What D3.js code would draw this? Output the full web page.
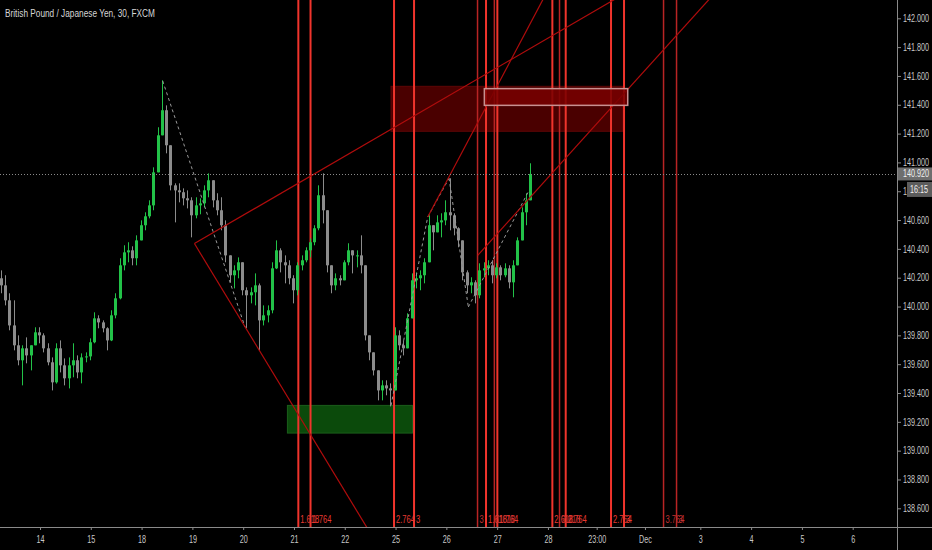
<!DOCTYPE html>
<html><head><meta charset="utf-8">
<script src="https://cdn.jsdelivr.net/npm/d3@7/dist/d3.min.js"></script>
<style>html,body{margin:0;padding:0;background:#000;}svg{display:block;}</style>
</head><body>
<svg id="chart" width="932" height="550"></svg>
<script>
const title = "British Pound / Japanese Yen, 30, FXCM";
// candles: 2h aggregation, time in trading-day units (0 = "14")
const candleStart = -0.768;
const candleStep = 1 / 12;
const firstOpen = 140.196;
const highs = [
140.251,140.217,140.092,140.043,139.800,139.731,139.786,139.731,139.856,139.856,
139.814,139.745,139.647,139.745,139.765,139.640,139.647,139.745,139.661,139.675,
139.682,139.779,139.960,139.939,139.904,139.856,139.974,140.092,140.335,140.425,
140.446,140.418,140.494,140.598,140.654,140.737,140.966,141.244,141.570,141.396,
141.119,140.855,140.855,140.820,140.806,140.758,140.758,140.751,140.841,140.924,
140.876,140.786,140.758,140.598,140.355,140.286,140.341,140.307,140.133,140.133,
140.230,140.160,140.008,140.008,140.307,140.459,140.404,140.355,140.321,140.217,
140.307,140.355,140.411,140.473,140.564,140.841,140.924,140.668,140.286,140.230,
140.217,140.321,140.439,140.390,140.390,140.494,140.286,139.800,139.682,139.557,
139.488,139.488,139.467,139.856,139.835,139.765,139.953,140.230,140.237,140.251,
140.335,140.633,140.564,140.633,140.647,140.737,140.890,140.647,140.550,140.459,
140.251,140.203,140.182,140.300,140.307,140.321,140.321,140.300,140.286,140.300,
140.286,140.321,140.480,140.688,140.786,140.994];
const lows = [
140.092,140.008,139.835,139.696,139.592,139.453,139.606,139.557,139.731,139.745,
139.682,139.592,139.418,139.465,139.543,139.453,139.432,139.509,139.502,139.467,
139.613,139.627,139.745,139.849,139.821,139.696,139.760,139.918,140.050,140.251,
140.307,140.286,140.286,140.459,140.529,140.612,140.668,140.931,141.188,141.063,
140.806,140.584,140.723,140.702,140.681,140.480,140.612,140.640,140.688,140.758,
140.688,140.633,140.529,140.307,140.168,140.126,140.196,140.078,139.849,140.022,
140.008,139.696,139.869,139.890,139.953,140.260,140.237,140.161,140.154,140.022,
140.078,140.251,140.307,140.341,140.425,140.529,140.577,140.237,140.092,140.113,
140.147,140.182,140.286,140.230,140.272,140.230,139.765,139.627,139.522,139.349,
139.349,139.384,139.307,139.418,139.696,139.661,139.710,139.918,140.126,140.113,
140.161,140.307,140.390,140.515,140.480,140.564,140.529,140.494,140.411,140.182,
140.092,140.092,140.022,140.057,140.203,140.217,140.161,140.196,140.182,140.203,
140.126,140.064,140.286,140.459,140.564,140.737];
const closes = [
140.147,140.043,139.869,139.731,139.627,139.710,139.661,139.731,139.821,139.800,
139.710,139.613,139.474,139.710,139.592,139.502,139.592,139.627,139.543,139.647,
139.654,139.752,139.918,139.890,139.849,139.765,139.939,140.057,140.286,140.376,
140.390,140.335,140.459,140.564,140.626,140.702,140.931,141.188,141.362,141.119,
140.841,140.806,140.793,140.751,140.737,140.633,140.702,140.716,140.806,140.876,
140.737,140.668,140.564,140.355,140.217,140.251,140.307,140.113,140.078,140.099,
140.147,139.904,139.939,139.974,140.265,140.390,140.307,140.286,140.196,140.113,
140.286,140.321,140.390,140.446,140.543,140.772,140.668,140.286,140.147,140.196,
140.182,140.307,140.390,140.355,140.355,140.286,139.800,139.682,139.557,139.418,
139.453,139.432,139.418,139.800,139.731,139.710,139.918,140.182,140.196,140.217,
140.307,140.564,140.515,140.584,140.598,140.654,140.633,140.543,140.459,140.237,
140.147,140.168,140.078,140.251,140.265,140.286,140.217,140.272,140.217,140.265,
140.168,140.286,140.459,140.654,140.737,140.920];
const lastPrice = 140.920;
const countdown = "16:15";
const priceTicks = [142.0,141.8,141.6,141.4,141.2,141.0,140.8,140.6,140.4,140.2,140.0,139.8,139.6,139.4,139.2,139.0,138.8,138.6];
const timeTickPos = [0,1,2,3,4,5,6,7,8,9,10,10.96,11.91,13,14,15,16];
const timeTickLabels = ["14","15","18","19","20","21","22","25","26","27","28","23:00","Dec","3","4","5","6"];
// fib time zone vertical lines
const vlineDays = [5.086,5.326,6.970,7.364,8.614,8.781,8.945,9.004,10.087,10.228,10.350,11.242,11.498,12.276,12.532];
const vlineLabels = ["1.618","1.764","2.764","3","3","1.618","1.618","1.764","2.618","2.618","2.764","2.764","3","3.764","3"];
const vlineKind = ["major","major","major","major","minor","major","minor","major","major","minor","major","major","major","minor","minor"];
// trend lines [day1, price1, day2, price2]
const trendLines = [
  [3.04,140.437,12.01,142.274],
  [3.04,140.437,6.694,138.317],
  [7.633,140.621,10.238,142.354],
  [8.618,140.355,13.585,142.292]
];
// zigzag (dashed) segments [day1, price1, day2, price2]
const zigzag = [
  [2.416,141.565,4.036,139.858],
  [6.911,139.314,7.633,140.621],
  [7.633,140.621,8.053,140.890],
  [8.053,140.890,8.433,139.997],
  [8.433,139.997,9.608,140.793]
];
// zones [day1, day2, priceTop, priceBottom]
const greenZone = [4.871,7.333,139.314,139.122];
const redZone = [6.911,11.473,141.528,141.216];
const redBox = [8.748,11.571,141.512,141.396];

const W = 932, H = 550, plotR = 897, plotB = 527;
const svg = d3.select("#chart");
const x = d3.scaleLinear().domain([0,16]).range([40,852.7]);
const y = d3.scaleLinear().domain([138.6,142.0]).range([508.3,18.3]);
const FONT = "'Liberation Sans', Arial, sans-serif";
const SQ = 0.72; // horizontal squash of the screenshot's narrow font

svg.append("rect").attr("width",W).attr("height",H).attr("fill","#000");
svg.append("defs").append("clipPath").attr("id","plot")
  .append("rect").attr("x",0).attr("y",0).attr("width",plotR).attr("height",plotB);
const g = svg.append("g").attr("clip-path","url(#plot)");

// zones
g.append("rect").attr("x",x(redZone[0])).attr("y",y(redZone[2]))
  .attr("width",x(redZone[1])-x(redZone[0])).attr("height",y(redZone[3])-y(redZone[2]))
  .attr("fill","#4a0000").attr("stroke","#5e0606").attr("stroke-width",1);
g.append("rect").attr("x",x(greenZone[0])).attr("y",y(greenZone[2]))
  .attr("width",x(greenZone[1])-x(greenZone[0])).attr("height",y(greenZone[3])-y(greenZone[2]))
  .attr("fill","#0b4a0b").attr("stroke","#1b5e1b").attr("stroke-width",1);

// vertical lines
const vl = g.append("g");
vlineDays.forEach((d,i)=>{
  const major = vlineKind[i]==="major";
  vl.append("line").attr("x1",x(d)).attr("x2",x(d)).attr("y1",0).attr("y2",plotB)
    .attr("stroke", major?"#f0342c":"#b82424").attr("stroke-width", major?2:1.5);
});

// candles
const cg = g.append("g");
closes.forEach((c,i)=>{
  const o = i===0?firstOpen:closes[i-1];
  const t = candleStart + i*candleStep;
  const cx = Math.round(x(t))+0.5;
  const up = c>=o;
  const col = up?"#22c248":"#8c8c8c";
  const hi = Math.max(highs[i],o,c), lo = Math.min(lows[i],o,c);
  cg.append("line").attr("x1",cx).attr("x2",cx).attr("y1",y(hi)).attr("y2",y(lo))
    .attr("stroke",col).attr("stroke-width",1);
  const top = y(Math.max(o,c)), bot = y(Math.min(o,c));
  cg.append("rect").attr("x",cx-1.5).attr("y",top).attr("width",3).attr("height",Math.max(1,bot-top))
    .attr("fill",col);
});

// zigzag dashed
zigzag.forEach(s=>{
  g.append("line").attr("x1",x(s[0])).attr("y1",y(s[1])).attr("x2",x(s[2])).attr("y2",y(s[3]))
   .attr("stroke","#9a9a9a").attr("stroke-width",1).attr("stroke-dasharray","3,3");
});

// trend lines
trendLines.forEach(s=>{
  g.append("line").attr("x1",x(s[0])).attr("y1",y(s[1])).attr("x2",x(s[2])).attr("y2",y(s[3]))
   .attr("stroke","#b00c0c").attr("stroke-width",1.2);
});

// red highlighted box
g.append("rect").attr("x",x(redBox[0])).attr("y",y(redBox[2]))
  .attr("width",x(redBox[1])-x(redBox[0])).attr("height",y(redBox[3])-y(redBox[2]))
  .attr("fill","#780000").attr("fill-opacity",0.85).attr("stroke","#c89090").attr("stroke-width",1.5);

// vertical line labels
vlineDays.forEach((d,i)=>{
  const major = vlineKind[i]==="major";
  g.append("text").attr("class","sq").attr("x",x(d)+2).attr("y",plotB-4)
   .attr("fill", major?"#e83a32":"#c03030").attr("font-size","10.5px").attr("font-family",FONT)
   .text(vlineLabels[i]);
});

// last price line
g.append("line").attr("x1",0).attr("x2",plotR).attr("y1",Math.round(y(lastPrice))+0.5).attr("y2",Math.round(y(lastPrice))+0.5)
  .attr("stroke","#8a8a8a").attr("stroke-width",1).attr("stroke-dasharray","1,2");

// axes
const ya = svg.append("g").attr("transform",`translate(${plotR},0)`)
  .call(d3.axisRight(y).tickValues(priceTicks).tickSize(4).tickPadding(2).tickFormat(d3.format(".3f")));
ya.select(".domain").remove();
ya.selectAll("line").attr("stroke","#8a8a8a");
ya.selectAll("text").attr("class","sq").attr("fill","#c8c8c8").attr("font-size","10px").attr("font-family",FONT);

const xa = svg.append("g").attr("transform",`translate(0,${plotB})`)
  .call(d3.axisBottom(x).tickValues(timeTickPos).tickSize(3).tickPadding(6).tickFormat((d,i)=>timeTickLabels[i]));
xa.select(".domain").remove();
xa.selectAll("line").attr("stroke","#8a8a8a");
xa.selectAll("text").attr("class","sq").attr("fill","#c8c8c8").attr("font-size","10px").attr("font-family",FONT);

svg.append("line").attr("x1",0).attr("x2",W).attr("y1",plotB+0.5).attr("y2",plotB+0.5).attr("stroke","#8a8a8a");
svg.append("line").attr("x1",plotR+0.5).attr("x2",plotR+0.5).attr("y1",0).attr("y2",H).attr("stroke","#8a8a8a");

// last price label and countdown
const ly = y(lastPrice);
svg.append("rect").attr("x",plotR+1).attr("y",ly-6.5).attr("width",W-plotR-1).attr("height",13).attr("fill","#6e6e6e");
svg.append("text").attr("class","sq").attr("x",plotR+6).attr("y",ly+3.5).attr("fill","#f0f0f0")
  .attr("font-size","10px").attr("font-family",FONT).text(d3.format(".3f")(lastPrice));
svg.append("rect").attr("x",907).attr("y",ly+8).attr("width",W-907).attr("height",15).attr("fill","#5c5c5c");
svg.append("text").attr("class","sq").attr("x",910).attr("y",ly+19).attr("fill","#f0f0f0")
  .attr("font-size","10px").attr("font-family",FONT).text(countdown);

// title
svg.append("text").attr("class","sq").attr("x",5).attr("y",17).attr("fill","#d6d6d6")
  .attr("font-size","11.5px").attr("font-family",FONT).text(title);

// squash text horizontally around its anchor x
svg.selectAll("text.sq").each(function(){
  const ax = parseFloat(this.getAttribute("x")) || 0;
  const prev = this.getAttribute("transform") || "";
  this.setAttribute("transform", `${prev} translate(${(ax*(1-SQ)).toFixed(2)},0) scale(${SQ},1)`);
});
</script>
</body></html>
